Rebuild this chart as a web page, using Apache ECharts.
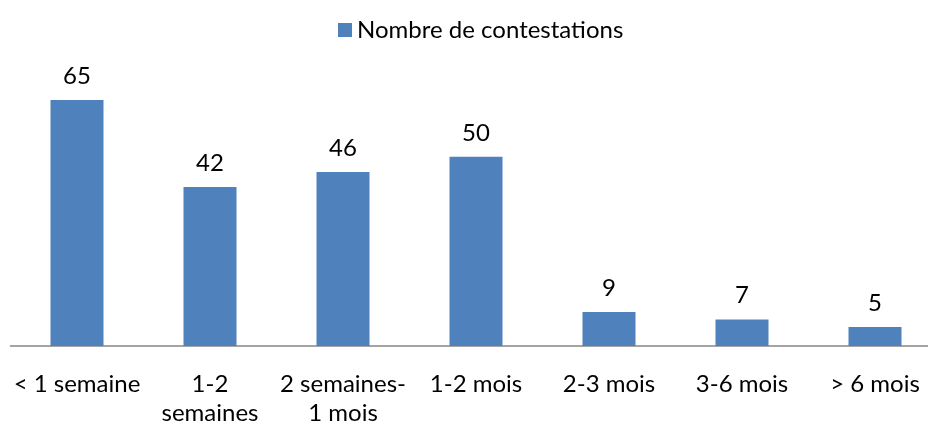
<!DOCTYPE html>
<html><head><meta charset="utf-8">
<script src="https://cdn.jsdelivr.net/npm/echarts@6/dist/echarts.min.js"></script>
<style>html,body{margin:0;padding:0;background:#fff}#c{width:928px;height:425px}</style>
</head><body><div id="c"></div>
<script>
const categories = ['< 1 semaine', '1-2\nsemaines', '2 semaines-\n1 mois', '1-2 mois', '2-3 mois', '3-6 mois', '> 6 mois'];
const values = [65, 42, 46, 50, 9, 7, 5];
const seriesName = 'Nombre de contestations';
const font = 'Lato, "Open Sans", sans-serif';
const chart = echarts.init(document.getElementById('c'));
chart.setOption({
  animation: false,
  legend: {
    data: [seriesName], left: 333, top: 13, itemWidth: 14, itemHeight: 14, itemGap: 7,
    icon: 'rect',
    textStyle: { fontFamily: font, fontSize: 24, color: '#000' }
  },
  grid: { left: 10.5, top: 100, width: 931, height: 246, containLabel: false, outerBoundsMode: 'none' },
  xAxis: {
    type: 'category', data: categories,
    axisLine: { lineStyle: { color: '#868686', width: 1.5 } },
    axisTick: { show: false },
    axisLabel: { interval: 0, margin: 24, fontFamily: font, fontSize: 24, color: '#000', lineHeight: 29 }
  },
  yAxis: { type: 'value', min: 0, max: 65, show: false, splitLine: { show: false } },
  series: [{
    name: seriesName, type: 'bar', data: values, barWidth: 53,
    itemStyle: { color: '#4F81BD' },
    label: { show: true, position: 'top', distance: 12, fontFamily: font, fontSize: 24, color: '#000' }
  }]
});
</script></body></html>
